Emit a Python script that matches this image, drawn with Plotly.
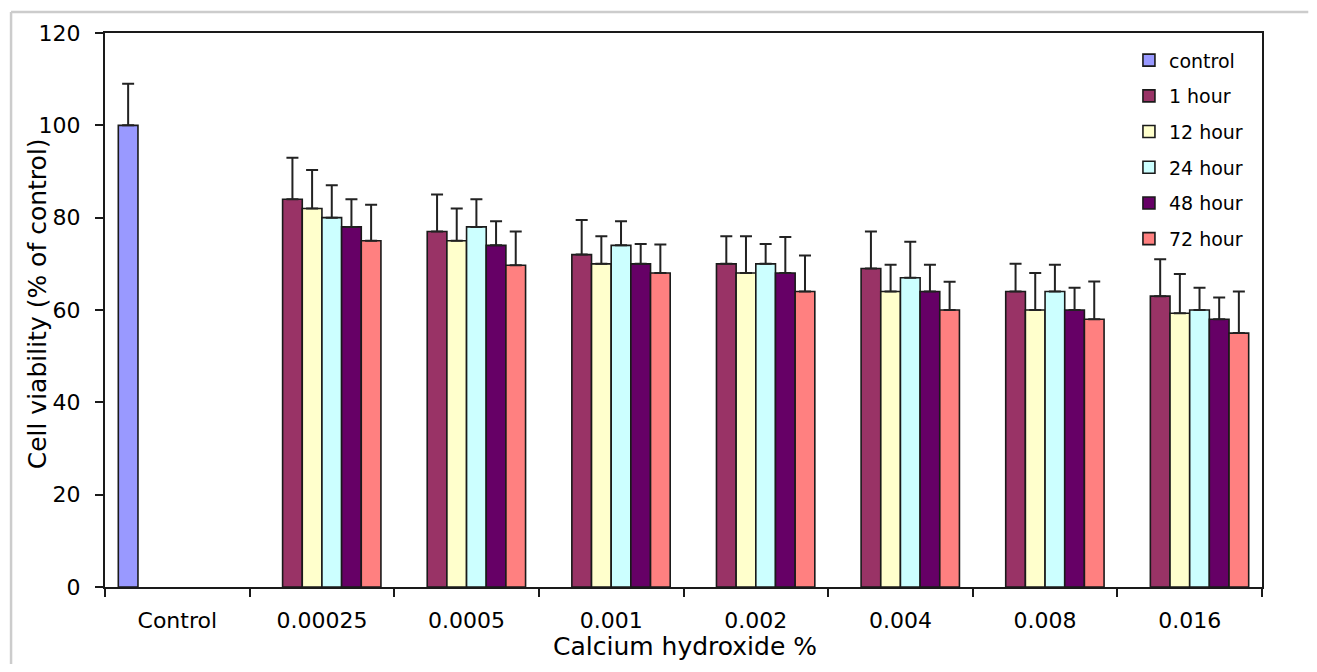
import plotly.graph_objects as go

categories = ["Control", "0.00025", "0.0005", "0.001", "0.002", "0.004", "0.008", "0.016"]

control_vals = [100, None, None, None, None, None, None, None]
control_err = [9, None, None, None, None, None, None, None]

h1_vals = [None, 84, 77, 72, 70, 69, 64, 63]
h1_err = [None, 9, 8, 7.5, 6, 8, 6, 8]

h12_vals = [None, 82, 75, 70, 68, 64, 60, 59.3]
h12_err = [None, 8.3, 7, 6, 8, 5.8, 8, 8.5]

h24_vals = [None, 80, 78, 74, 70, 67, 64, 60]
h24_err = [None, 7, 6, 5.2, 4.3, 7.8, 5.8, 4.8]

h48_vals = [None, 78, 74, 70, 68, 64, 60, 58]
h48_err = [None, 6, 5.2, 4.3, 7.8, 5.8, 4.8, 4.7]

h72_vals = [None, 75, 69.7, 68, 64, 60, 58, 55]
h72_err = [None, 7.8, 7.3, 6.2, 7.8, 6.1, 8.2, 9]

series_names = ["control", "1 hour", "12 hour", "24 hour", "48 hour", "72 hour"]
series_colors = ["#9999FF", "#993366", "#FFFFCC", "#CCFFFF", "#660066", "#FF8080"]
series_vals = [control_vals, h1_vals, h12_vals, h24_vals, h48_vals, h72_vals]
series_errs = [control_err, h1_err, h12_err, h24_err, h48_err, h72_err]

x_title = "Calcium hydroxide %"
y_title = "Cell viability (% of control)"

FONT = "DejaVu Sans"

fig = go.Figure()
for i, (name, color, vals, errs) in enumerate(zip(series_names, series_colors, series_vals, series_errs)):
    fig.add_trace(go.Bar(
        x=categories,
        y=vals,
        name=name,
        legendgroup=f"g{i}",
        marker=dict(color=color, line=dict(color="#1a1a1a", width=1.6)),
        error_y=dict(
            type="data",
            symmetric=False,
            array=[e if e is not None else 0 for e in errs],
            arrayminus=[0] * len(errs),
            color="#222222",
            thickness=2,
            width=6,
        ),
    ))

# outer light-grey frame (left and top edges)
fig.add_shape(type="line", xref="paper", yref="paper",
              x0=-0.0812, x1=-0.0812, y0=-0.16, y1=1.0379,
              line=dict(color="#cccccc", width=2.5), layer="below")
fig.add_shape(type="line", xref="paper", yref="paper",
              x0=-0.0812, x1=1.04, y0=1.0379, y1=1.0379,
              line=dict(color="#cccccc", width=2.5), layer="below")

# axis titles as annotations
fig.add_annotation(text=x_title, xref="paper", yref="paper", x=0.501, y=-0.1065,
                   xanchor="center", yanchor="middle", showarrow=False,
                   font=dict(family=FONT, size=25, color="#000000"))
fig.add_annotation(text=y_title, xref="paper", yref="paper", x=-0.0588, y=0.512,
                   xanchor="center", yanchor="middle", showarrow=False, textangle=-90,
                   font=dict(family=FONT, size=25, color="#000000"))

fig.update_layout(
    width=1301, height=656,
    margin=dict(l=97, r=47, t=25, b=77, autoexpand=False),
    paper_bgcolor="white", plot_bgcolor="white",
    barmode="group", bargap=0.184, bargroupgap=0,
    font=dict(family=FONT, color="#000000", size=20),
    showlegend=True,
    legend=dict(
        x=0.885, y=0.985, xanchor="left", yanchor="top",
        font=dict(family=FONT, size=19, color="#000000"),
        bgcolor="rgba(0,0,0,0)",
        tracegroupgap=8,
        itemwidth=30,
    ),
    xaxis=dict(
        type="category", automargin=False,
        showline=True, linecolor="#1a1a1a", linewidth=2, mirror=True,
        ticks="outside", tickson="boundaries", ticklen=8, tickwidth=2, tickcolor="#1a1a1a",
        tickfont=dict(family=FONT, size=22, color="#000000"),
        ticklabelstandoff=13,
        showgrid=False,
    ),
    yaxis=dict(
        range=[0, 120], dtick=20, automargin=False,
        showline=True, linecolor="#1a1a1a", linewidth=2, mirror=True,
        ticks="outside", ticklen=8, tickwidth=2, tickcolor="#1a1a1a",
        tickfont=dict(family=FONT, size=22, color="#000000"),
        ticklabelstandoff=10,
        showgrid=False, zeroline=False,
    ),
)

fig.write_html("out.html")
